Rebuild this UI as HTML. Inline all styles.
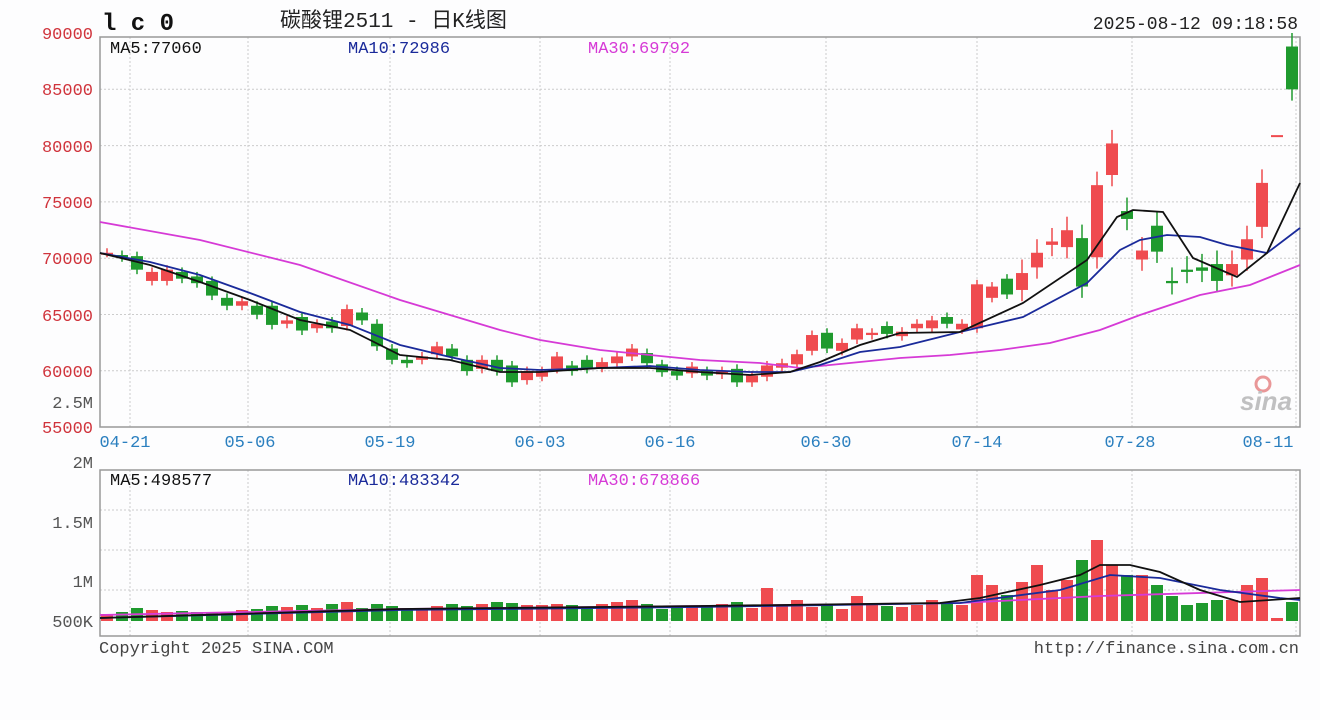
<!DOCTYPE html>
<html><head><meta charset="utf-8"><style>
html,body{margin:0;padding:0;background:#fdfdfe;}
svg{display:block;font-family:"Liberation Mono","Noto Sans CJK SC",monospace;}
</style></head><body>
<svg id="s" width="1320" height="720" xmlns="http://www.w3.org/2000/svg">
<rect width="1320" height="720" fill="#fdfdfe"/>
<g id="grid"></g>
<rect x="100" y="37" width="1200" height="390" fill="none" stroke="#999" stroke-width="1.5"/>
<rect x="100" y="470" width="1200" height="166" fill="none" stroke="#999" stroke-width="1.5"/>
<g font-size="17" fill="#d0343c" text-anchor="end">
<text x="93" y="39">90000</text><text x="93" y="95">85000</text><text x="93" y="152">80000</text>
<text x="93" y="208">75000</text><text x="93" y="264">70000</text><text x="93" y="321">65000</text>
<text x="93" y="377">60000</text><text x="93" y="433">55000</text>
</g>
<text x="93" y="408" font-size="17" fill="#555" text-anchor="end">2.5M</text>
<g font-size="17" fill="#555" text-anchor="end">
<text x="93" y="468">2M</text><text x="93" y="528">1.5M</text><text x="93" y="587">1M</text><text x="93" y="627">500K</text>
</g>
<text x="102" y="30" font-size="24" font-weight="bold" fill="#111">l c 0</text>
<text x="280" y="27" font-size="21" fill="#222">碳酸锂2511 - 日K线图</text>
<text x="1298" y="29" font-size="18" fill="#222" text-anchor="end">2025-08-12 09:18:58</text>
<text x="110" y="53" font-size="17" fill="#111">MA5:77060</text>
<text x="348" y="53" font-size="17" fill="#1a2a9a">MA10:72986</text>
<text x="588" y="53" font-size="17" fill="#d63ad6">MA30:69792</text>
<text x="110" y="485" font-size="17" fill="#111">MA5:498577</text>
<text x="348" y="485" font-size="17" fill="#1a2a9a">MA10:483342</text>
<text x="588" y="485" font-size="17" fill="#d63ad6">MA30:678866</text>
<g font-size="17" fill="#2a7fbf" text-anchor="middle">
<text x="125" y="447">04-21</text><text x="250" y="447">05-06</text><text x="390" y="447">05-19</text>
<text x="540" y="447">06-03</text><text x="670" y="447">06-16</text><text x="826" y="447">06-30</text>
<text x="977" y="447">07-14</text><text x="1130" y="447">07-28</text><text x="1268" y="447">08-11</text>
</g>
<text x="99" y="653" font-size="17" fill="#444">Copyright 2025 SINA.COM</text>
<text x="1299" y="653" font-size="17" fill="#444" text-anchor="end">http://finance.sina.com.cn</text>
<g opacity="0.6"><circle cx="1263" cy="384" r="7" fill="none" stroke="#d55" stroke-width="3"/>
<text x="1240" y="410" font-size="26" font-style="italic" font-weight="bold" fill="#999" font-family="Liberation Sans,sans-serif">sina</text></g>
<g id="vol"></g><g id="c"></g><g id="ma"></g>
</svg>
<script>
const NS="http://www.w3.org/2000/svg";
function el(p,t,a){const e=document.createElementNS(NS,t);for(const k in a)e.setAttribute(k,a[k]);document.getElementById(p).appendChild(e);return e;}
const vx=[130,248,390,540,670,826,977,1132,1296];
for(const x of vx){el('grid','line',{x1:x,y1:37,x2:x,y2:427,stroke:'#ccc','stroke-dasharray':'2,2'});el('grid','line',{x1:x,y1:470,x2:x,y2:636,stroke:'#ccc','stroke-dasharray':'2,2'});}
for(let i=1;i<7;i++){const y=33+i*56.3;el('grid','line',{x1:100,y1:y,x2:1300,y2:y,stroke:'#ccc','stroke-dasharray':'2,2'});}
for(const y of [510,550,590]){el('grid','line',{x1:100,y1:y,x2:1300,y2:y,stroke:'#ccc','stroke-dasharray':'2,2'});}
const Y=p=>33+(90000-p)*0.01127;
const D=[[70500,70500],[70300,70100],[70200,69000],[68000,68800],[68000,69000],[68800,68200],[68400,67800],[68000,66700],[66500,65800],[65800,66200],
[65800,65000],[65800,64100],[64200,64500],[64800,63600],[63800,64200],[64400,63800],[64000,65500],[65200,64500],[64200,62200],[62000,61000],
[61000,60700],[61000,61300],[61500,62200],[62000,61300],[61000,60000],[60200,61000],[61000,60000],[60500,59000],[59200,60000],[59500,60000],
[60200,61300],[60500,60000],[61000,60200],[60300,60800],[60700,61300],[61300,62000],[61600,60700],[60600,59900],[60000,59600],[59800,60400],
[60000,59600],[59700,60000],[60200,59000],[59000,59600],[59500,60500],[60300,60700],[60600,61500],[61800,63200],[63400,62000],[61800,62500],
[62800,63800],[63200,63400],[64000,63300],[63100,63500],[63800,64200],[63800,64500],[64800,64200],[63700,64200],[63800,67700],[66500,67500],
[68200,66800],[67200,68700],[69200,70500],[71200,71500],[71000,72500],[71800,67500],[70100,76500],[77400,80200],[74200,73500],[69900,70700],
[72900,70600],[68000,67800],[69000,68800],[69200,68900],[69500,68000],[68500,69500],[69900,71700],[72800,76700],[80800,80900],[88800,85000]];
const VT=[614,612,608,610,612,611,612,612,612,610,609,606,607,605,608,604,602,608,604,606,609,608,606,604,606,604,602,603,605,605,604,605,608,604,602,600,604,609,606,606,605,604,602,608,588,606,600,607,604,609,596,604,606,607,605,600,603,605,575,585,595,582,565,590,580,560,540,565,575,575,585,596,605,603,600,600,585,578,618,602];
D.forEach((d,i)=>{const x=107+i*15,o=d[0],c=d[1],up=c>=o,col=up?'#ef4b4f':'#1f9a2e';
if(i===78){el('c','rect',{x:x-6,y:Y(80850)-1,width:12,height:2,fill:col});}
else{
const hi=Math.max(o,c)+(i>60?1200:400),lo=Math.min(o,c)-(i>60?1000:400);
el('c','line',{x1:x,x2:x,y1:Y(hi),y2:Y(lo),stroke:col,'stroke-width':1.5});
const t=Y(Math.max(o,c)),b=Y(Math.min(o,c));el('c','rect',{x:x-6,y:t,width:12,height:Math.max(2,b-t),fill:col});}
el('vol','rect',{x:x-6,y:VT[i],width:12,height:621-VT[i],fill:col});});
function pl(pts,col,w){el('ma','polyline',{points:pts,fill:'none',stroke:col,'stroke-width':w});}
pl("100,222 200,240 300,265 400,300 500,330 540,340 600,350 700,360 760,363 800,368 850,363 900,358 950,355 1000,350 1050,343 1100,330 1140,315 1200,295 1250,285 1300,265",'#d63ad6',1.8);
pl("100,253 150,262 200,275 250,293 300,312 350,325 400,345 450,357 500,368 540,370 600,368 650,366 700,370 750,372 790,372 820,365 860,352 900,347 960,332 1023,317 1087,283 1120,250 1140,240 1167,235 1200,237 1227,245 1267,253 1300,228",'#1a2a9a',1.8);
pl("100,253 150,265 200,282 250,300 300,320 350,330 380,345 400,355 450,360 500,372 540,372 600,368 650,368 700,372 750,375 790,372 820,362 860,345 900,333 960,332 1023,303 1087,260 1117,217 1133,210 1163,212 1193,258 1237,277 1267,253 1300,183",'#111',1.8);
pl("100,615 400,609 700,606 960,603 1100,596 1300,590",'#d63ad6',1.8);
pl("100,618 400,610 700,607 960,603 1060,590 1110,575 1160,578 1220,590 1280,598 1300,600",'#1a2a9a',1.8);
pl("100,618 400,609 700,606 940,603 980,598 1040,585 1080,575 1100,565 1130,565 1160,572 1200,590 1240,602 1270,600 1300,598",'#111',1.8);
</script>
</body></html>
